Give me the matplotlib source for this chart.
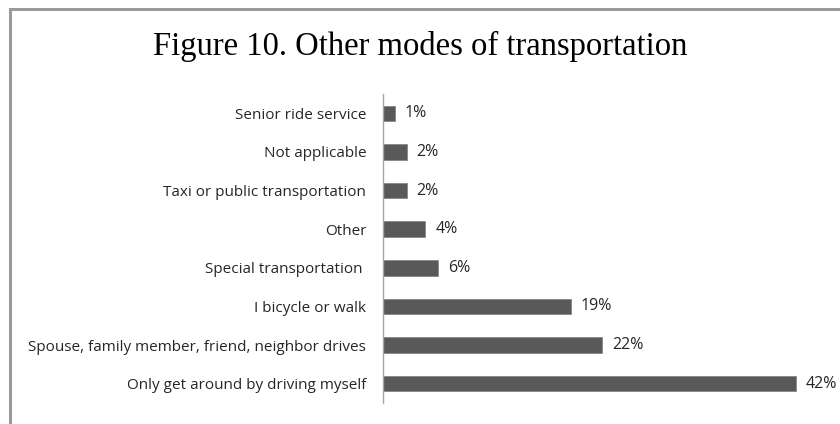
#! /usr/bin/python3

import matplotlib
matplotlib.use('Agg')
import matplotlib.pyplot as plt
from matplotlib.patches import Rectangle
from matplotlib import font_manager

TITLE = 'Figure 10. Other modes of transportation'

# bottom to top, as drawn on the chart
categories = [
    'Only get around by driving myself',
    'Spouse, family member, friend, neighbor drives',
    'I bicycle or walk',
    'Special transportation ',
    'Other',
    'Taxi or public transportation',
    'Not applicable',
    'Senior ride service',
]
percent = [42.0, 22.3, 19.1, 5.6, 4.3, 2.4, 2.4, 1.2]
percent_labels = ['42%', '22%', '19%', '6%', '4%', '2%', '2%', '1%']

BAR_COLOR = '#595959'
TEXT_COLOR = '#262626'
AXIS_COLOR = '#a6a6a6'
W, H = 840, 424


def pick_font(names):
    installed = {f.name for f in font_manager.fontManager.ttflist}
    for n in names:
        if n in installed:
            return n
    return 'DejaVu Sans'


def plot_modes(output_file='out.png'):
    label_font = pick_font(['Liberation Sans Narrow', 'Open Sans', 'Liberation Sans'])
    title_font = pick_font(['Liberation Serif', 'DejaVu Serif'])

    fig = plt.figure(figsize=(W / 100, H / 100), dpi=100)
    ax = fig.add_axes([383 / W, 1 - 403 / H, (825 - 383) / W, (403 - 94) / H])

    y = list(range(len(categories)))
    ax.barh(y, percent, height=0.4, color=BAR_COLOR, edgecolor='#7f7f7f', linewidth=0.5)

    # value labels to the right of each bar
    for i, v in enumerate(percent):
        ax.annotate(percent_labels[i], (v, i), xytext=(10, 0), textcoords='offset pixels',
                    va='center', ha='left', fontsize=11.5, color=TEXT_COLOR, family=label_font)

    ax.set_xlim(0, 45)
    ax.set_ylim(-0.5, len(categories) - 0.5)
    ax.set_yticks(y)
    ax.set_yticklabels(categories, fontsize=11, color=TEXT_COLOR, family=label_font)
    ax.tick_params(axis='y', length=0, pad=12)
    ax.set_xticks([])

    for s in ['top', 'right', 'bottom']:
        ax.spines[s].set_visible(False)
    ax.spines['left'].set_color(AXIS_COLOR)
    ax.spines['left'].set_linewidth(1)

    fig.text(0.5, 1 - 46 / H, TITLE, ha='center', va='center', fontsize=23.5,
             family=title_font, color='#000000')

    # outer frame, only top and left edges are visible in the picture
    fig.patches.append(Rectangle((9.5 / W, -0.1), 1.2, 1 - 9 / H + 0.1,
                                 transform=fig.transFigure, fill=False,
                                 edgecolor='#9a9a9a', linewidth=2.2))

    fig.savefig(output_file, dpi=100)


def main():
    plot_modes('out.png')


if __name__ == '__main__':
    main()
